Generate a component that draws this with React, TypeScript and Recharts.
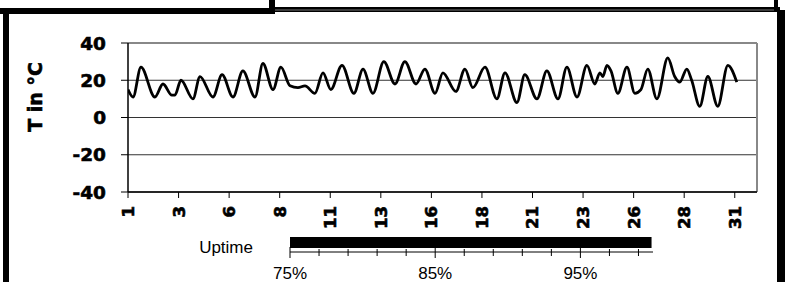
import React from "react";
import {
  LineChart,
  Line,
  XAxis,
  YAxis,
  CartesianGrid,
  ReferenceLine,
  BarChart,
  Bar,
} from "recharts";

// temperature trace: day of month -> °C
const DAYS = [
  1.0, 1.25, 1.64, 2.33, 2.73, 3.17, 3.32, 3.62, 4.21, 4.56, 5.2, 5.65, 6.19, 6.68, 7.28, 7.67,
  8.17, 8.56, 9.01, 9.4, 9.75, 10.24, 10.64, 11.03, 11.58, 12.17, 12.62, 13.11, 13.65, 14.2,
  14.69, 15.24, 15.68, 16.18, 16.57, 17.21, 17.66, 18.05, 18.65, 19.24, 19.64, 20.23, 20.62,
  21.22, 21.71, 22.26, 22.7, 23.2, 23.69, 24.08, 24.33, 24.48, 24.68, 24.88, 25.22, 25.67,
  26.06, 26.36, 26.7, 27.15, 27.69, 28.03, 28.28, 28.63, 28.87, 29.27, 29.67, 30.16, 30.66, 31.1,
];
const TEMPS = [
  15, 11, 27, 11, 18, 12, 12, 20, 10, 22, 11, 23, 11, 25, 11, 29,
  15, 27, 17, 16, 17, 13, 24, 15, 28, 13, 26, 13, 30, 18,
  30, 18, 26, 13, 24, 14, 26, 16, 27, 10, 24, 8, 23,
  10, 25, 10, 27, 11, 28, 18, 24, 22, 28, 25, 13, 27,
  13, 15, 26, 10, 32, 22, 19, 26, 20, 6, 22, 6, 28, 19,
];
const DAY_TICKS = [1, 3.5, 6, 8.5, 11, 13.5, 16, 18.5, 21, 23.5, 26, 28.5, 31];
const TEMP_TICKS = [-40, -20, 0, 20, 40];

// uptime bar
const UPTIME_LABEL = "Uptime";
const UPTIME_VALUE = 99.9;
const UPTIME_TICKS = [75, 77, 79, 81, 83, 85, 87, 89, 91, 93, 95, 97, 99];
const UPTIME_LABELED = [75, 85, 95];

const series = DAYS.map((d, i) => ({ day: d, t: TEMPS[i] }));
const uptime = [{ label: UPTIME_LABEL, value: UPTIME_VALUE }];

const BOLD = "'DejaVu Sans', sans-serif";
const PLAIN = "'Liberation Sans', Arial, sans-serif";

/* eslint-disable @typescript-eslint/no-explicit-any */
const DayTick = ({ x, y, payload }: any) => (
  <text
    x={x}
    y={y}
    transform={`rotate(-90 ${x} ${y})`}
    textAnchor="end"
    dy="0.36em"
    fontFamily={BOLD}
    fontWeight="bold"
    fontSize={16.5}
    fill="#000"
    stroke="#000"
    strokeWidth={0.6}
  >
    {Math.floor(payload.value)}
  </text>
);

const UptimeTick = ({ x, y, payload }: any) => {
  const major = UPTIME_LABELED.includes(payload.value);
  return (
    <g>
      <line x1={x} x2={x} y1={major ? y - 5 : y - 3} y2={major ? y + 6 : y + 4} stroke="#000" />
      {major && (
        <text x={x} y={y + 27} textAnchor="middle" fontFamily={PLAIN} fontSize={17} fill="#000">
          {payload.value}%
        </text>
      )}
    </g>
  );
};

const CatTick = ({ x, y, payload }: any) => (
  <text x={x} y={y + 11} textAnchor="end" fontFamily={PLAIN} fontSize={17} fill="#000">
    {payload.value}
  </text>
);

export default function App() {
  return (
    <div style={{ position: "fixed", left: 0, top: 0, width: 788, height: 282, background: "#fff", overflow: "hidden" }}>
      {/* frame */}
      <svg width={788} height={282} style={{ position: "absolute", left: 0, top: 0 }}>
        <rect x={0} y={8} width={275} height={6} fill="#000" />
        <rect x={269} y={0} width={6} height={14} fill="#000" />
        <rect x={275} y={7} width={505} height={5} fill="#000" />
        <line x1={275} x2={776} y1={10} y2={10} stroke="#777" strokeWidth={1} />
        <rect x={774} y={0} width={4} height={12} fill="#000" />
        <rect x={3} y={8} width={6} height={274} fill="#000" />
        <rect x={777} y={10} width={8} height={272} fill="#000" />
        <text
          x={35}
          y={97}
          transform="rotate(-90 35 97)"
          textAnchor="middle"
          dy="0.36em"
          fontFamily={BOLD}
          fontWeight="bold"
          fontSize={19}
          fill="#000"
          stroke="#000"
          strokeWidth={0.6}
        >
          T in °C
        </text>
      </svg>

      <div style={{ position: "absolute", left: 0, top: 0 }}>
        <LineChart width={788} height={282} data={series} margin={{ top: 43, right: 31, left: 78, bottom: 50 }}>
          <CartesianGrid vertical={false} stroke="#333" />
          <XAxis
            type="number"
            dataKey="day"
            domain={[1, 32.1]}
            ticks={DAY_TICKS}
            allowDataOverflow
            height={40}
            tickSize={6}
            tickMargin={8}
            tick={<DayTick />}
            axisLine={{ stroke: "#000", strokeWidth: 1.5 }}
            tickLine={{ stroke: "#000" }}
          />
          <YAxis
            type="number"
            domain={[-40, 40]}
            ticks={TEMP_TICKS}
            width={50}
            tickSize={7}
            tickMargin={15}
            tick={{ fill: "#000", stroke: "#000", strokeWidth: 0.6, fontFamily: BOLD, fontWeight: "bold", fontSize: 18.5 }}
            axisLine={{ stroke: "#000", strokeWidth: 1.5 }}
            tickLine={{ stroke: "#000" }}
          />
          <ReferenceLine y={40} stroke="#888" strokeWidth={2} />
          <ReferenceLine x={32.1} stroke="#888" strokeWidth={2} />
          <Line
            type="monotone"
            dataKey="t"
            stroke="#000"
            strokeWidth={2.8}
            dot={false}
            isAnimationActive={false}
          />
        </LineChart>
      </div>

      <div style={{ position: "absolute", left: 0, top: 222 }}>
        <BarChart
          width={788}
          height={60}
          data={uptime}
          layout="vertical"
          margin={{ top: 10, right: 135, left: 190, bottom: 0 }}
        >
          <XAxis
            type="number"
            domain={[75, 100]}
            ticks={UPTIME_TICKS}
            allowDataOverflow
            height={30}
            tickSize={0}
            tickMargin={0}
            tickLine={false}
            tick={<UptimeTick />}
            axisLine={{ stroke: "#000" }}
          />
          <YAxis
            type="category"
            dataKey="label"
            width={100}
            tickSize={0}
            tickMargin={37}
            tickLine={false}
            axisLine={false}
            tick={<CatTick />}
          />
          <Bar dataKey="value" fill="#000" barSize={11} isAnimationActive={false} />
        </BarChart>
      </div>
    </div>
  );
}
